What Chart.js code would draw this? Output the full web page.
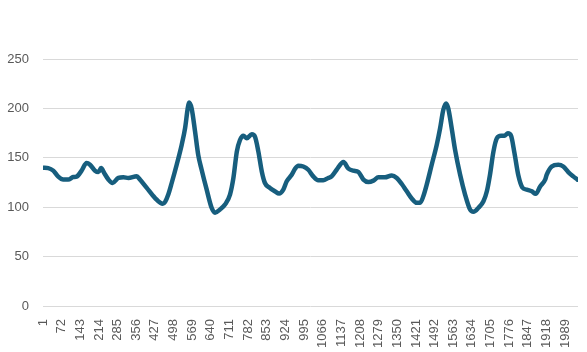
<!DOCTYPE html>
<html>
<head>
<meta charset="UTF-8" />
<script src="https://cdn.jsdelivr.net/npm/chart.js"></script>
<style>
  body { margin: 0; padding: 0; background: #fff; }
  .chart-container { position: relative; width: 587px; height: 352px; }
</style>
</head>
<body>
<div class="chart-container">
  <canvas id="lineChart"></canvas>
</div>
<script>
  // sample positions (row numbers) and readings
  const samplePos = [
    2, 21, 40, 59, 78, 97, 116, 129, 148, 167, 180, 199, 212, 222, 234, 250, 266, 288, 307, 326,
    358, 370, 396, 427, 457, 466, 478, 491, 510, 529, 542, 552, 557, 567, 580, 592, 605, 624, 643, 656,
    675, 694, 713, 726, 739, 751, 764, 777, 796, 808, 821, 834, 846, 865, 884, 900, 916, 929, 948, 961,
    973, 992, 1011, 1030, 1049, 1068, 1087, 1100, 1119, 1145, 1164, 1183, 1202, 1221, 1240, 1259, 1278, 1303, 1329, 1348,
    1367, 1386, 1405, 1424, 1437, 1449, 1462, 1481, 1500, 1513, 1525, 1536, 1544, 1557, 1570, 1589, 1608, 1627, 1640, 1659,
    1678, 1691, 1703, 1716, 1729, 1745, 1758, 1771, 1783, 1796, 1811, 1826, 1843, 1862, 1877, 1894, 1913, 1919, 1938, 1963,
    1982, 2001, 2020, 2036
  ];
  const sampleValues = [
    140, 139.6, 137, 131, 128, 128, 130.5, 131, 137, 144.7, 143, 137, 135.6, 139.6, 134.6, 128, 124.5, 129.6, 130.2, 129.6,
    131.2, 128, 119.5, 109.5, 103.4, 105.4, 112.8, 124.5, 143, 163, 180, 200, 206, 200, 176.5, 153, 138, 118, 99.4, 94.4,
    97.7, 102.7, 112.8, 129.6, 156.3, 168, 172.4, 169.8, 173.8, 171.4, 156.3, 136.2, 124.5, 119.5, 116.1, 113.8, 117.8, 126.2, 132.9, 139,
    142, 141.2, 137.9, 131.2, 127.2, 127.2, 129.6, 131.2, 137.9, 145.7, 139, 137, 135.6, 128, 125.5, 126.9, 130.2, 130.2, 132.2, 129.6,
    123.5, 116.1, 108.8, 104.4, 104.4, 111, 122.8, 143, 163, 179.9, 198.3, 205, 200, 180, 158, 133, 112.8, 97.7, 95.4, 99.4,
    106, 116.1, 133, 156.3, 169.8, 172.4, 172.4, 174.8, 172.4, 155, 132, 120, 117.8, 116.1, 113.5, 121, 127.9, 132.9, 141.2, 143,
    141.2, 135.6, 131.2, 127.9
  ];
  const tickLabels = [1, 72, 143, 214, 285, 356, 427, 498, 569, 640, 711, 782, 853, 924, 995, 1066, 1137, 1208, 1279, 1350, 1421, 1492, 1563, 1634, 1705, 1776, 1847, 1918, 1989];
  const yTicks = [0, 50, 100, 150, 200, 250];

  const points = samplePos.map((p, i) => ({ x: p, y: sampleValues[i] }));

  Chart.defaults.font.family = '"Liberation Sans", Arial, sans-serif';
  Chart.defaults.font.size = 13;
  Chart.defaults.color = '#595959';

  const ctx = document.getElementById('lineChart').getContext('2d');
  new Chart(ctx, {
    type: 'line',
    data: {
      datasets: [{
        data: points,
        borderColor: '#175e7e',
        borderWidth: 4.5,
        pointRadius: 0,
        cubicInterpolationMode: 'monotone',
        borderCapStyle: 'round',
        borderJoinStyle: 'round',
        fill: false,
      }],
    },
    options: {
      responsive: true,
      maintainAspectRatio: false,
      animation: false,
      layout: { padding: { top: 59, right: 9, left: 0, bottom: 0 } },
      plugins: { legend: { display: false }, tooltip: { enabled: false } },
      scales: {
        x: {
          type: 'linear',
          min: 1,
          max: 2038,
          afterBuildTicks: (scale) => { scale.ticks = tickLabels.map(v => ({ value: v })); },
          afterFit: (scale) => { scale.height = 46; },
          grid: { display: false },
          border: { display: false },
          ticks: {
            autoSkip: false,
            minRotation: 90,
            maxRotation: 90,
            padding: 5,
            callback: (v) => String(v),
          },
        },
        y: {
          min: 0,
          max: 250,
          afterBuildTicks: (scale) => { scale.ticks = yTicks.map(v => ({ value: v })); },
          afterFit: (scale) => { scale.width = 43; },
          grid: { color: '#d9d9d9', lineWidth: 1, drawTicks: false },
          border: { display: false },
          ticks: { padding: 14 },
        },
      },
    },
  });
</script>
</body>
</html>
